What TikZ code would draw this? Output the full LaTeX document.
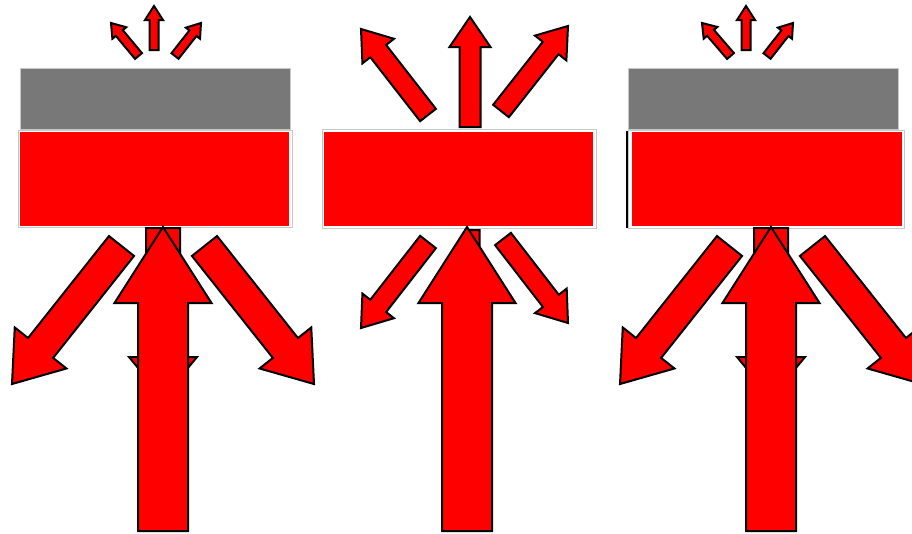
\documentclass[tikz,border=0pt]{standalone}
\usetikzlibrary{calc}
\definecolor{slab}{RGB}{120,120,120}
\definecolor{rim}{RGB}{200,200,200}
\definecolor{pure}{RGB}{255,0,0}
\tikzset{
  arrowbody/.style={draw=black,fill=pure,line width=2pt,line join=miter},
  slabbox/.style={fill=slab,draw=rim,line width=0.8pt},
  rimbox/.style={fill=white,draw=rim,line width=0.8pt},
  redbox/.style={fill=pure,draw=none}
}
% #1 tail, #2 tip, #3 half shaft, #4 half head, #5 head length
\newcommand\blockarrow[5]{%
  \coordinate (bT) at #1; \coordinate (bP) at #2;
  \coordinate (bH) at ($(bP)!#5!(bT)$);
  \draw[arrowbody] ($(bT)!#3!90:(bP)$) -- ($(bH)!#3!90:(bP)$) -- ($(bH)!#4!90:(bP)$) -- (bP)
    -- ($(bH)!#4!-90:(bP)$) -- ($(bH)!#3!-90:(bP)$) -- ($(bT)!#3!-90:(bP)$) -- cycle;}
\begin{document}
\begin{tikzpicture}[x=1pt,y=-1pt]
\useasboundingbox[fill=white] (0,0) rectangle (912,533);
% ---------- left panel ----------
\draw[slabbox] (20,68) rectangle (290,129);
\draw[rimbox] (18,130) rectangle (292,227);
\fill[redbox] (20,132) rectangle (289,226);
\blockarrow{(154,50)}{(154,6)}{4.5pt}{9pt}{14pt}
\blockarrow{(138.5,56)}{(111,23)}{4.5pt}{9pt}{13pt}
\blockarrow{(175,56)}{(201,23)}{4.5pt}{9pt}{13pt}
\blockarrow{(163,228)}{(163,398)}{17pt}{34pt}{41pt}
\blockarrow{(121.5,246)}{(12,384)}{16pt}{33pt}{46pt}
\blockarrow{(204.5,246)}{(314,384)}{16pt}{33pt}{46pt}
\blockarrow{(163,531)}{(163,227)}{25pt}{48.5pt}{76pt}
% ---------- middle panel ----------
\draw[rimbox] (322,129) rectangle (596,228);
\fill[redbox] (324,132) rectangle (593,226);
\blockarrow{(470,127)}{(470,17)}{10.5pt}{20.5pt}{30pt}
\blockarrow{(428,115)}{(361,29)}{10pt}{20pt}{28pt}
\blockarrow{(501,111)}{(568,26)}{10pt}{20pt}{28pt}
\blockarrow{(474,230)}{(474,300)}{5.5pt}{11pt}{16pt}
\blockarrow{(428,242)}{(361,328)}{10pt}{20pt}{28pt}
\blockarrow{(503,239)}{(568,323)}{10pt}{20pt}{28pt}
\blockarrow{(467,531)}{(467,227)}{25pt}{48.5pt}{76pt}
% ---------- right panel ----------
\draw[slabbox] (628,68) rectangle (898,129);
\draw[rimbox] (628,130) rectangle (904,228);
\fill[redbox] (632,132) rectangle (902,226);
\fill[black] (625.5,131) rectangle (628,228);
\blockarrow{(746,50)}{(746,6)}{4.5pt}{9pt}{14pt}
\blockarrow{(730.5,56)}{(702,23)}{4.5pt}{9pt}{13pt}
\blockarrow{(767,56)}{(793,23)}{4.5pt}{9pt}{13pt}
\blockarrow{(771,228)}{(771,398)}{17pt}{34pt}{41pt}
\blockarrow{(729.5,246)}{(620,384)}{16pt}{33pt}{46pt}
\blockarrow{(812.5,246)}{(922,384)}{16pt}{33pt}{46pt}
\blockarrow{(771,531)}{(771,227)}{25pt}{48.5pt}{76pt}
\end{tikzpicture}
\end{document}
